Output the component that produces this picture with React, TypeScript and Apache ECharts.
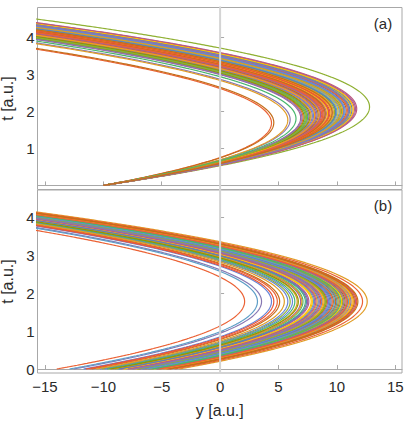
import React, { useEffect, useRef } from "react";
import * as echarts from "echarts";

// Mathematica default palette (ColorData 97)
const PALETTE = [
  "#5E81B5", "#E19C24", "#8FB032", "#EB6235", "#8778B3",
  "#C56E1A", "#5D9EC7", "#FFBF00", "#A5609D", "#929600",
  "#E95536", "#6685D9", "#F89F13", "#BC5B80", "#47B66D",
];

const GRAVITY = 10.16; // (parabola curvature)

// Panel (a): common launch position, apex positions
const START_A = -10;
const PEAKS_A = [
  9.3, 7.4, 12.8, 4.4, 6.0, 10.8, 8.1, 11.2, 6.9, 9.9,
  8.6, 10.3, 7.8, 11.5, 9.0, 8.3, 5.8, 10.6, 7.1, 9.6,
  4.6, 8.8, 10.1, 7.6, 11.0, 9.4, 8.0, 10.5, 9.1, 7.3,
  11.3, 8.5, 9.8, 10.9, 7.9, 8.4, 10.2, 9.2, 11.6, 7.2,
  8.9, 10.7, 9.5, 8.2, 7.5, 11.1, 9.7, 10.4, 8.7, 7.0,
  9.0, 10.0, 11.4, 8.6, 7.7, 9.3, 10.6, 8.1, 11.7, 6.5,
  9.9, 10.3, 7.4, 8.8, 11.0, 9.6,
];

// Panel (b): common apex time, apex positions
const APEX_TIME_B = 1.78;
const PEAKS_B = [
  8.4, 12.6, 10.9, 2.1, 3.55, 9.7, 3.2, 11.3, 7.5, 9.0,
  10.2, 5.8, 8.8, 11.6, 7.1, 9.4, 6.6, 10.5, 12.2, 8.1,
  9.9, 11.0, 7.8, 6.9, 10.7, 8.6, 4.4, 11.4, 9.2, 7.3,
  10.0, 8.3, 6.0, 9.6, 11.2, 5.1, 8.0, 10.4, 7.6, 9.1,
  11.7, 6.2, 8.9, 10.8, 6.4, 9.5, 7.0, 10.1, 4.9, 8.5,
  11.5, 9.8, 7.9, 10.6, 6.7, 4.6, 9.3, 11.1, 8.2, 10.3,
  7.4, 5.5, 9.0, 10.9, 8.7, 11.8,
];

const X_TICKS = [-15, -10, -5, 0, 5, 10, 15];
const T_TICKS_A = [1, 2, 3, 4];
const T_TICKS_B = [0, 1, 2, 3, 4];

const FONT = '"Liberation Sans", Arial, sans-serif';
const FRAME = "#a8a8a8";
const TEXT = "#2a2a2a";
const X_MIN = -15.64;
const X_MAX = 15.58;

function trajectory(y0: number, v: number): number[][] {
  const pts: number[][] = [];
  for (let i = 0; i < 1000; i++) {
    const t = i * 0.01;
    const y = y0 + v * t - 0.5 * GRAVITY * t * t;
    pts.push([y, t]);
    if (y < X_MIN - 1) break;
  }
  return pts;
}

export default function App() {
  const ref = useRef<HTMLDivElement>(null);
  useEffect(() => {
    if (!ref.current) return;
    const chart = echarts.init(ref.current, undefined, { renderer: "svg" });

    const series: any[] = [];
    PEAKS_A.forEach((p, i) => {
      const v = Math.sqrt(2 * GRAVITY * (p - START_A));
      series.push({
        type: "line",
        xAxisIndex: 0,
        yAxisIndex: 0,
        data: trajectory(START_A, v),
        showSymbol: false,
        symbol: "none",
        silent: true,
        clip: true,
        lineStyle: { width: 1.2, color: PALETTE[i % PALETTE.length] },
      });
    });
    const vB = GRAVITY * APEX_TIME_B;
    const riseB = (vB * vB) / (2 * GRAVITY);
    PEAKS_B.forEach((p, i) => {
      series.push({
        type: "line",
        xAxisIndex: 1,
        yAxisIndex: 1,
        data: trajectory(p - riseB, vB),
        showSymbol: false,
        symbol: "none",
        silent: true,
        clip: true,
        lineStyle: { width: 1.2, color: PALETTE[i % PALETTE.length] },
      });
    });
    [0, 1].forEach((k) => {
      series.push({
        type: "line",
        xAxisIndex: k,
        yAxisIndex: k,
        data: [[0, -1], [0, 6]],
        showSymbol: false,
        symbol: "none",
        silent: true,
        clip: true,
        lineStyle: { width: 2, color: "#d4d4d4" },
      });
    });

    const labelStyle = { fontSize: 15, color: TEXT, fontFamily: FONT };
    const xAxis = (k: number) => ({
      gridIndex: k,
      type: "value",
      min: X_MIN,
      max: X_MAX,
      axisLine: { show: true, lineStyle: { color: FRAME } },
      axisTick: {
        show: true,
        inside: true,
        length: 4,
        customValues: X_TICKS,
        lineStyle: { color: FRAME },
      },
      axisLabel: {
        show: k === 1,
        customValues: X_TICKS,
        margin: 6,
        ...labelStyle,
        formatter: (v: number) => (v < 0 ? "\u2212" + Math.abs(v) : String(v)),
      },
      splitLine: { show: false },
      name: k === 1 ? "y [a.u.]" : "",
      nameLocation: "middle",
      nameGap: 29,
      nameTextStyle: { fontSize: 16, color: TEXT, fontFamily: FONT },
    });
    const yAxis = (k: number, min: number, max: number, ticks: number[]) => ({
      gridIndex: k,
      type: "value",
      min,
      max,
      axisLine: { show: true, lineStyle: { color: FRAME } },
      axisTick: {
        show: true,
        inside: true,
        length: 4,
        customValues: ticks,
        lineStyle: { color: FRAME },
      },
      axisLabel: {
        customValues: ticks,
        margin: 3,
        ...labelStyle,
      },
      splitLine: { show: false },
      name: "t [a.u.]",
      nameLocation: "middle",
      nameGap: 16,
      nameTextStyle: { fontSize: 16, color: TEXT, fontFamily: FONT },
    });

    const gridBase = {
      left: 37.5,
      right: 7,
      show: true,
      borderColor: FRAME,
      borderWidth: 1,
      backgroundColor: "transparent",
      containLabel: false,
      outerBoundsMode: "none",
    };

    chart.setOption({
      animation: false,
      backgroundColor: "#ffffff",
      grid: [
        { ...gridBase, top: 7.5, height: 182 },
        { ...gridBase, top: 190, height: 183 },
      ],
      xAxis: [xAxis(0), xAxis(1)],
      yAxis: [yAxis(0, -0.11, 4.8, T_TICKS_A), yAxis(1, -0.105, 4.72, T_TICKS_B)],
      series,
      graphic: [
        { type: "text", x: 383, y: 23, style: { text: "(a)", fill: TEXT, font: `15px ${FONT}`, textAlign: "center", textVerticalAlign: "middle" } },
        { type: "text", x: 383, y: 205, style: { text: "(b)", fill: TEXT, font: `15px ${FONT}`, textAlign: "center", textVerticalAlign: "middle" } },
      ],
    });
    return () => chart.dispose();
  }, []);
  return (
    <div
      ref={ref}
      style={{ position: "fixed", left: 0, top: 0, width: 409, height: 421, background: "#fff" }}
    />
  );
}
